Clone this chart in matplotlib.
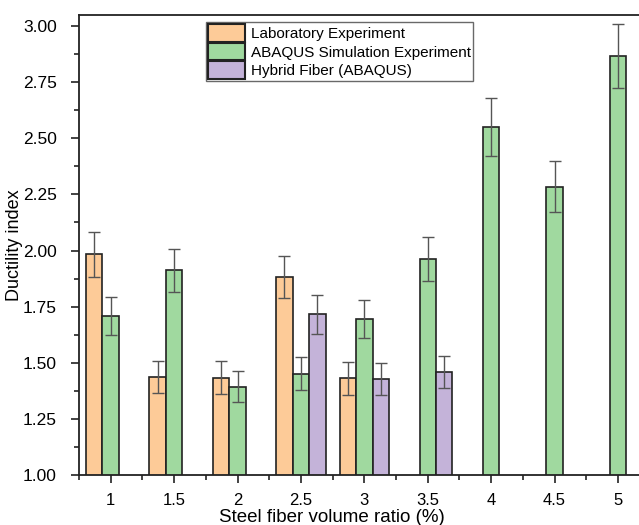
import matplotlib
matplotlib.use("Agg")
import matplotlib.pyplot as plt
from matplotlib.ticker import MultipleLocator, FixedLocator
import numpy as np

plt.rcParams['font.family'] = ['Liberation Sans', 'DejaVu Sans']

ratios = ["1", "1.5", "2", "2.5", "3", "3.5", "4", "4.5", "5"]
xpos = [1, 1.5, 2, 2.5, 3, 3.5, 4, 4.5, 5]

lab_x = [1, 1.5, 2, 2.5, 3]
lab_vals = [1.983, 1.437, 1.434, 1.882, 1.430]
lab_err = [0.099, 0.072, 0.072, 0.094, 0.072]

sim_x = [1, 1.5, 2, 2.5, 3, 3.5, 4, 4.5, 5]
sim_vals = [1.708, 1.912, 1.393, 1.451, 1.695, 1.963, 2.551, 2.284, 2.866]
sim_err = [0.085, 0.096, 0.070, 0.073, 0.085, 0.098, 0.128, 0.114, 0.143]

hyb_x = [2.5, 3, 3.5]
hyb_vals = [1.716, 1.429, 1.459]
hyb_err = [0.086, 0.071, 0.073]

labels = ["Laboratory Experiment", "ABAQUS Simulation Experiment", "Hybrid Fiber (ABAQUS)"]
colors = ["#FDCB98", "#A0D99F", "#C4B3D9"]

W, H = 639, 525
fig = plt.figure(figsize=(W / 100, H / 100), dpi=100)
ax = fig.add_axes([79 / W, 1 - 475 / H, 1 - 79 / W, (475 - 15) / H])

bw = 0.13
ekw = dict(elinewidth=1.0, ecolor="#555555", capthick=1.0)
ax.bar(np.array(lab_x) - bw, lab_vals, width=bw, color=colors[0], edgecolor="#222222",
       linewidth=1.2, yerr=lab_err, capsize=4, error_kw=ekw, label=labels[0])
ax.bar(np.array(sim_x), sim_vals, width=bw, color=colors[1], edgecolor="#222222",
       linewidth=1.2, yerr=sim_err, capsize=4, error_kw=ekw, label=labels[1])
ax.bar(np.array(hyb_x) + bw, hyb_vals, width=bw, color=colors[2], edgecolor="#222222",
       linewidth=1.2, yerr=hyb_err, capsize=4, error_kw=ekw, label=labels[2])

ax.set_xlim(0.75, 5 + 21 / 126.8)
ax.set_ylim(1.0, 3.049)
ax.set_xticks(xpos)
ax.set_xticklabels(ratios)
ax.xaxis.set_minor_locator(FixedLocator([0.75, 1.25, 1.75, 2.25, 2.75, 3.25, 3.75, 4.25, 4.75]))
ax.set_yticks([1.0, 1.25, 1.5, 1.75, 2.0, 2.25, 2.5, 2.75, 3.0])
ax.set_yticklabels(["1.00", "1.25", "1.50", "1.75", "2.00", "2.25", "2.50", "2.75", "3.00"])
ax.yaxis.set_minor_locator(MultipleLocator(0.125))
ax.tick_params(axis="both", which="major", direction="out", length=6, width=1.2,
               labelsize=12.5, colors="#222222", labelcolor="black")
ax.tick_params(axis="both", which="minor", direction="out", length=3.5, width=1.2, colors="#222222")
ax.tick_params(axis="x", pad=7, labelsize=12)
ax.tick_params(axis="y", pad=10)

for s in ["left", "bottom", "top"]:
    ax.spines[s].set_linewidth(1.3)
    ax.spines[s].set_color("#222222")
ax.spines["right"].set_visible(False)

ax.set_xlabel("Steel fiber volume ratio (%)", fontsize=13.5, va="center")
ax.set_ylabel("Ductility index", fontsize=13, va="center")
ax.xaxis.set_label_coords((332 - 79) / (W - 79), -(517.5 - 475) / 460)
ax.yaxis.set_label_coords(-(79 - 15) / (W - 79), 0.5)

leg = ax.legend(loc="upper left", bbox_to_anchor=((206 - 79) / (W - 79), (460 - 7) / 460),
                fontsize=11, frameon=True, fancybox=False, edgecolor="#444444",
                handlelength=2.4, handleheight=1.4, handletextpad=0.4, borderpad=0.15,
                labelspacing=0.05, borderaxespad=0)
leg.get_frame().set_linewidth(1.0)
for p in leg.get_patches():
    p.set_edgecolor("#222222")
    p.set_linewidth(1.5)

fig.savefig("out.png", dpi=100)
